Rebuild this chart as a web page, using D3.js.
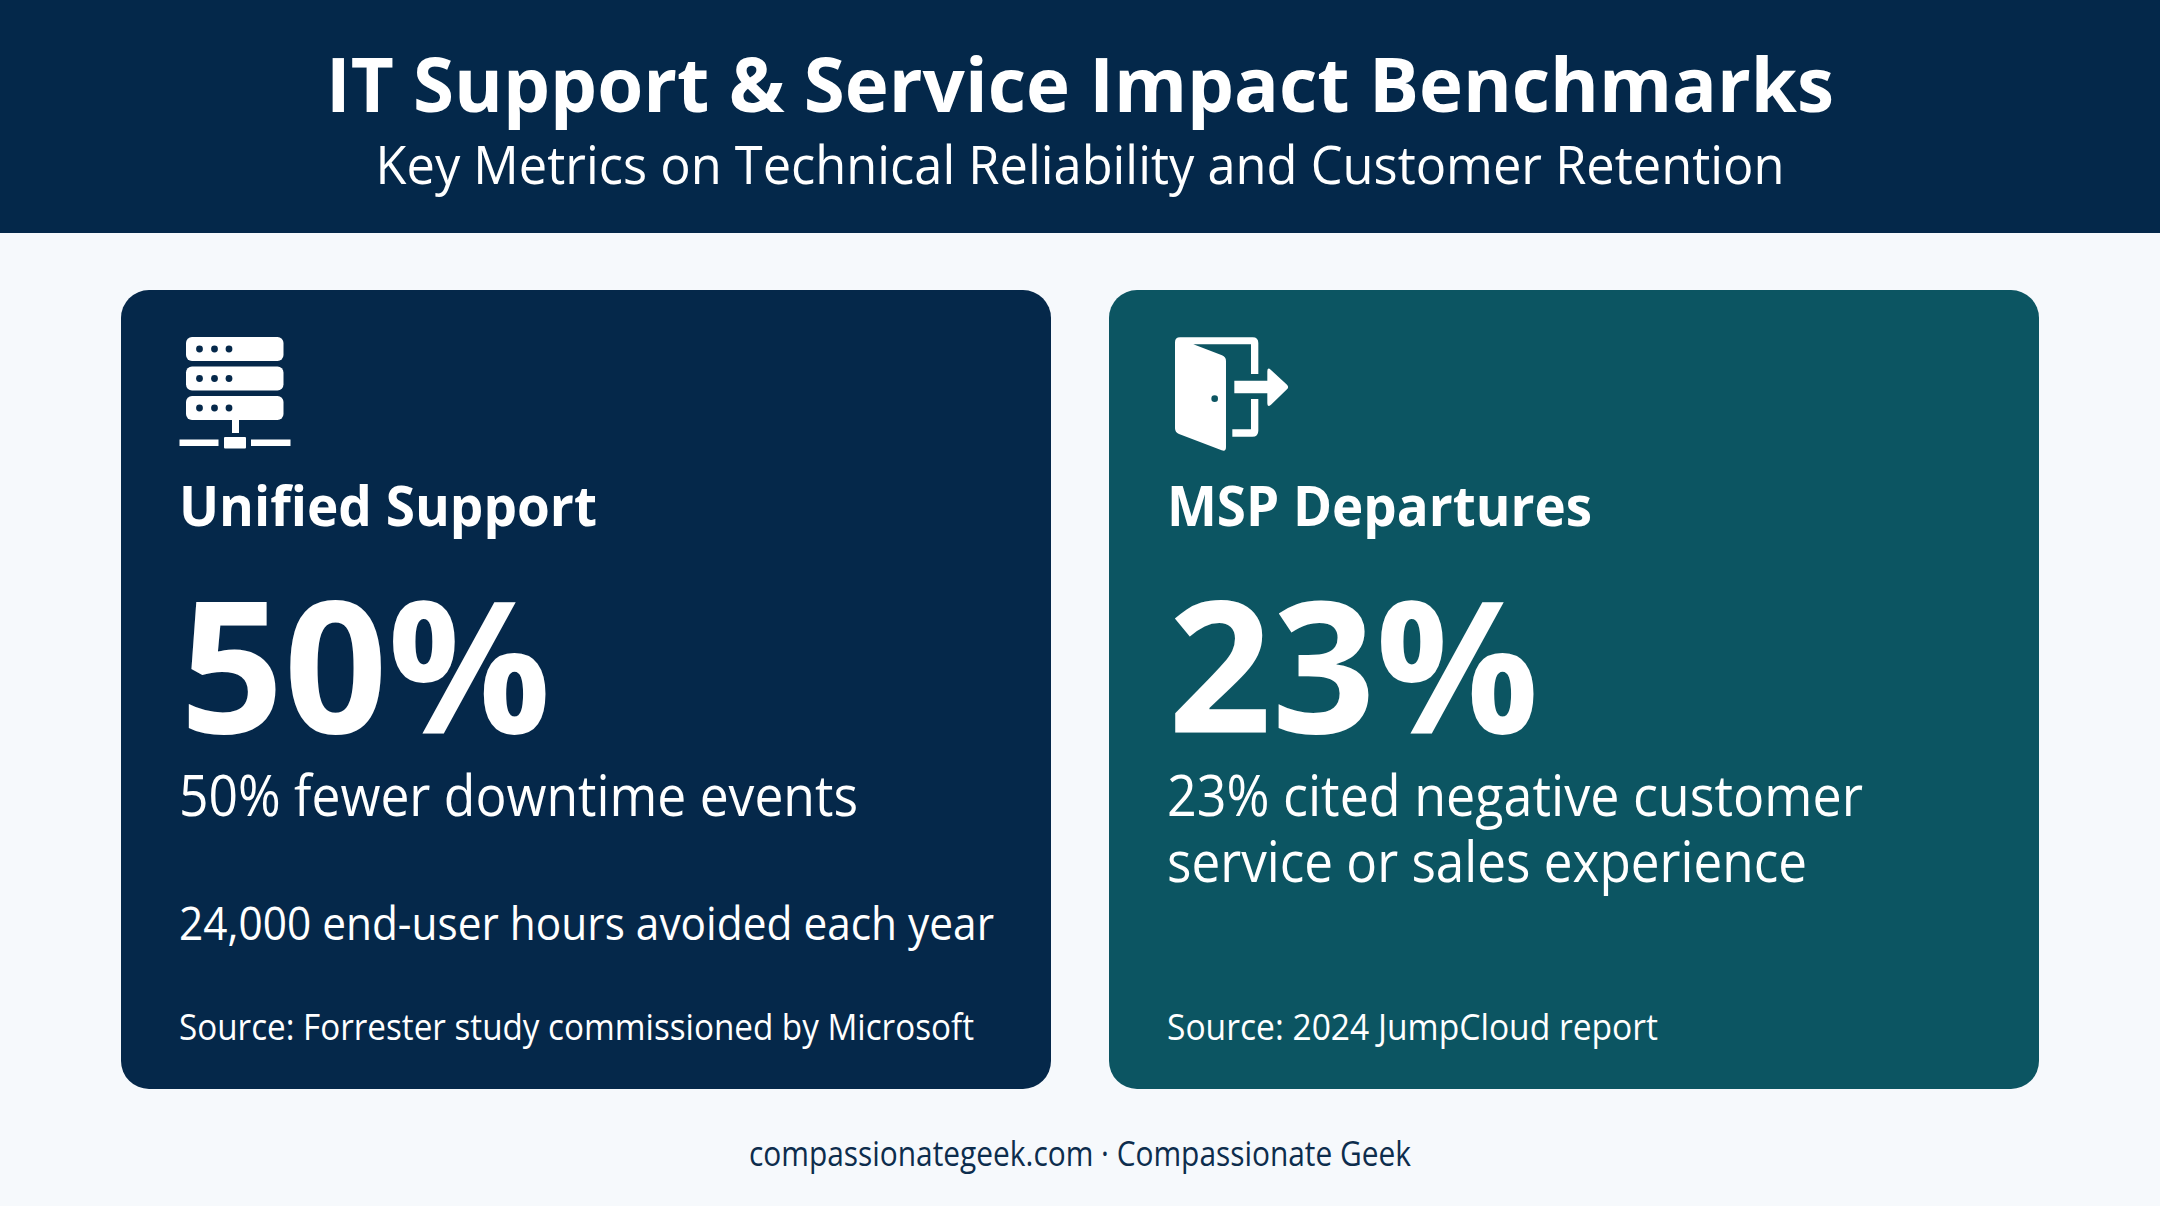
<!DOCTYPE html>
<html>
<head>
<meta charset="utf-8">
<script src="https://cdn.jsdelivr.net/npm/d3@7"></script>
<style>
  html, body { margin: 0; padding: 0; background: #f6f9fc; }
  svg { display: block; }
  text { font-family: "Open Sans", "Noto Sans", sans-serif; }
</style>
</head>
<body>
<div id="chart"></div>
<script>
// the numbers and the words of the page
var titleText = "IT Support & Service Impact Benchmarks";
var subtitleText = "Key Metrics on Technical Reliability and Customer Retention";
var footerText = "compassionategeek.com \u00b7 Compassionate Geek";
var cardNames = ["Unified Support", "MSP Departures"];
var cardValues = [50, 23];
var cardLines = [
  ["50% fewer downtime events"],
  ["23% cited negative customer", "service or sales experience"]
];
var cardNotes = ["24,000 end-user hours avoided each year", ""];
var cardSources = ["Source: Forrester study commissioned by Microsoft", "Source: 2024 JumpCloud report"];

var width = 2160, height = 1206;
var cardColors = ["#05284a", "#0c5562"];

var svg = d3.select("#chart").append("svg")
  .attr("width", width)
  .attr("height", height);

// cards sit on a band scale
var x = d3.scaleBand()
  .domain(cardNames)
  .range([121, 2039])
  .paddingInner(58 / 988);

// put a text down and squeeze it to the width
function label(g, str, px, py, size, weight, fill, fitWidth, anchor) {
  return g.append("text")
    .attr("x", px)
    .attr("y", py)
    .attr("font-size", size)
    .attr("font-weight", weight)
    .attr("fill", fill)
    .attr("text-anchor", anchor || "start")
    .attr("textLength", fitWidth)
    .attr("lengthAdjust", "spacingAndGlyphs")
    .text(str);
}

// page background
svg.append("rect").attr("width", width).attr("height", height).attr("fill", "#f6f9fc");

// header
svg.append("rect").attr("width", width).attr("height", 233).attr("fill", "#04284a");
label(svg, titleText, 1080, 112, 76, 700, "#ffffff", 1508, "middle");
label(svg, subtitleText, 1080, 184, 53, 400, "#ffffff", 1409, "middle");

// cards
var cards = svg.selectAll("g.card")
  .data(cardNames)
  .enter().append("g")
    .attr("class", "card");

cards.append("rect")
  .attr("x", function(d) { return x(d); })
  .attr("y", 290)
  .attr("width", x.bandwidth())
  .attr("height", 799)
  .attr("rx", 28)
  .attr("fill", function(d, i) { return cardColors[i]; });

var textLeft = function(i) { return x(cardNames[i]) + 58; };
var nameWidths = [418, 425];
var valueWidths = [371, 371];
var lineWidths = [[679], [696, 640]];
var sourceWidths = [795, 491];

cards.each(function(d, i) {
  var g = d3.select(this);
  label(g, cardNames[i], textLeft(i), 526, 55, 700, "#ffffff", nameWidths[i]);
  label(g, cardValues[i] + "%", textLeft(i) + 1, 733, 184, 700, "#ffffff", valueWidths[i]);
  cardLines[i].forEach(function(line, j) {
    label(g, line, textLeft(i), 816 + j * 66, 56, 400, "#ffffff", lineWidths[i][j]);
  });
  if (cardNotes[i]) label(g, cardNotes[i], textLeft(i), 940, 46, 400, "#ffffff", 815);
  label(g, cardSources[i], textLeft(i), 1040, 36, 400, "#ffffff", sourceWidths[i]);
});

// server icon
var server = svg.append("g").attr("fill", "#ffffff");
[337, 366.5, 396].forEach(function(top) {
  server.append("rect").attr("x", 186).attr("y", top).attr("width", 97.5).attr("height", 24).attr("rx", 6);
  [199.5, 214.5, 229].forEach(function(cx) {
    server.append("circle").attr("cx", cx).attr("cy", top + 12).attr("r", 3.4).attr("fill", cardColors[0]);
  });
});
server.append("rect").attr("x", 232).attr("y", 420).attr("width", 7).attr("height", 13);
server.append("rect").attr("x", 224).attr("y", 437).attr("width", 22).attr("height", 11.5).attr("rx", 1);
server.append("rect").attr("x", 179.5).attr("y", 439.5).attr("width", 39).attr("height", 6.5);
server.append("rect").attr("x", 251).attr("y", 439.5).attr("width", 39.5).attr("height", 6.5);

// door icon, drawn in 3x units
var door = svg.append("g")
  .attr("transform", "translate(1140,310) scale(0.3333)")
  .attr("fill", "#ffffff");
door.append("path").attr("d", "M120,82 H338 Q355,82 355,99 V192 H333 V103 H160 L246,136 Q258,141 258,153 V412 Q258,426 245,421 L117,372 Q105,367 105,355 V97 Q105,82 120,82 Z");
door.append("path").attr("d", "M355,267 V362 Q355,380 337,380 H277 V358 H333 V267 Z");
door.append("circle").attr("cx", 224).attr("cy", 266).attr("r", 10).attr("fill", cardColors[1]);
door.append("path").attr("d", "M283,212 H382 V184 Q382,170 393,180 L441,224 Q448,231 441,238 L393,284 Q382,293 382,280 V250 H283 Z");

// footer
label(svg, footerText, 1080, 1166, 34, 400, "#0d2d4d", 662, "middle");
</script>
</body>
</html>
